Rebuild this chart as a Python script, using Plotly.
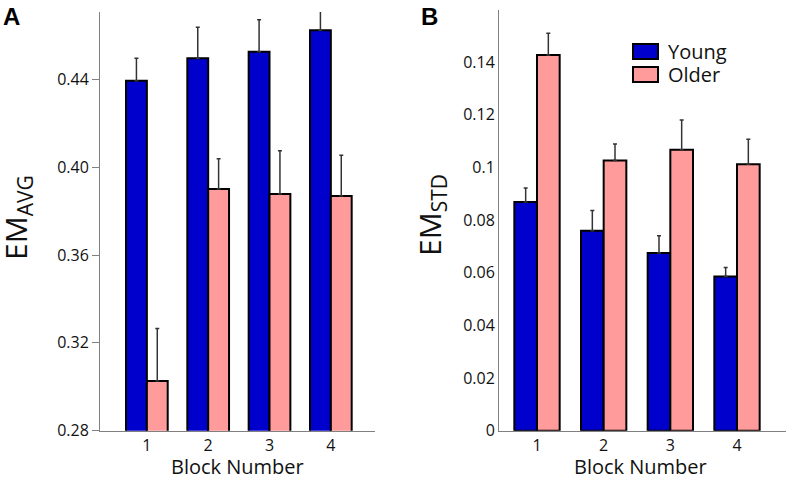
import plotly.graph_objects as go

blocks = [1, 2, 3, 4]
block_labels = ["1", "2", "3", "4"]

# Panel A: EM_AVG
young_avg = [0.4394, 0.4496, 0.4526, 0.4624]
young_avg_err = [0.0102, 0.0141, 0.0146, 0.0094]
older_avg = [0.3026, 0.3901, 0.3878, 0.3869]
older_avg_err = [0.0240, 0.0138, 0.0197, 0.0185]

# Panel B: EM_STD
young_std = [0.0869, 0.0760, 0.0675, 0.0586]
young_std_err = [0.0053, 0.0076, 0.0066, 0.0034]
older_std = [0.1427, 0.1026, 0.1067, 0.1012]
older_std_err = [0.0083, 0.0063, 0.0113, 0.0095]

avg_ticks = [0.28, 0.32, 0.36, 0.40, 0.44]
avg_ticktext = ["0.28", "0.32", "0.36", "0.40", "0.44"]
std_ticks = [0, 0.02, 0.04, 0.06, 0.08, 0.10, 0.12, 0.14, 0.16]
std_ticktext = ["0", "0.02", "0.04", "0.06", "0.08", "0.1", "0.12", "0.14", "0.16"]

YOUNG = "#0000CC"
OLDER = "#FF9B9B"
FONT = "Open Sans"
W, H = 787, 477


def px_x(p):
    return p / W


def px_y(p):
    return 1 - p / H


fig = go.Figure()


def add_bar(x, y, err, color, name, xa, ya):
    fig.add_trace(go.Bar(
        x=x, y=y, name=name, xaxis=xa, yaxis=ya,
        marker=dict(color=color, line=dict(color="black", width=2)),
        error_y=dict(type="data", array=err, arrayminus=[0] * len(err),
                     symmetric=False, color="#333333", thickness=1.5, width=2),
        offsetgroup=name, showlegend=False,
    ))


add_bar(blocks, young_avg, young_avg_err, YOUNG, "Young", "x", "y")
add_bar(blocks, older_avg, older_avg_err, OLDER, "Older", "x", "y")
add_bar(blocks, young_std, young_std_err, YOUNG, "Young", "x2", "y2")
add_bar(blocks, older_std, older_std_err, OLDER, "Older", "x2", "y2")

axis_common = dict(showgrid=False, zeroline=False, showline=True,
                   linecolor="#808080", linewidth=1, automargin=False,
                   tickfont=dict(family=FONT, size=16, color="#111"))

fig.update_layout(
    width=W, height=H,
    margin=dict(l=0, r=0, t=0, b=0, pad=0),
    plot_bgcolor="white", paper_bgcolor="white",
    barmode="group", bargap=0.32, bargroupgap=0,
    font=dict(family=FONT, color="#111"),
    xaxis=dict(domain=[px_x(100), px_x(375)], range=[0.236, 4.72],
               tickvals=blocks, ticktext=block_labels, ticks="",
               anchor="y", **axis_common),
    yaxis=dict(domain=[px_y(430.7), px_y(12)], range=[0.28, 0.4707],
               tickvals=avg_ticks, ticktext=avg_ticktext, ticks="outside",
               ticklen=7, tickcolor="#808080", anchor="x", **axis_common),
    xaxis2=dict(domain=[px_x(499), px_x(786)], range=[0.43, 4.735],
                tickvals=blocks, ticktext=block_labels, ticks="",
                anchor="y2", **axis_common),
    yaxis2=dict(domain=[px_y(430.7), px_y(9.5)], range=[0, 0.16],
                tickvals=std_ticks, ticktext=std_ticktext, ticks="",
                anchor="x2", **axis_common),
)

# Axis titles
fig.add_annotation(text="Block Number", xref="paper", yref="paper",
                   x=px_x(237.5), y=px_y(466), xanchor="center", yanchor="middle",
                   showarrow=False, font=dict(family=FONT, size=20, color="#111"))
fig.add_annotation(text="Block Number", xref="paper", yref="paper",
                   x=px_x(640), y=px_y(466), xanchor="center", yanchor="middle",
                   showarrow=False, font=dict(family=FONT, size=20, color="#111"))
fig.add_annotation(text="EM<sub>AVG</sub>", xref="paper", yref="paper",
                   x=px_x(17), y=px_y(218), textangle=-90, showarrow=False,
                   xanchor="center", yanchor="middle",
                   font=dict(family=FONT, size=30, color="#111"))
fig.add_annotation(text="EM<sub>STD</sub>", xref="paper", yref="paper",
                   x=px_x(431), y=px_y(215), textangle=-90, showarrow=False,
                   xanchor="center", yanchor="middle",
                   font=dict(family=FONT, size=30, color="#111"))

# Panel letters
fig.add_annotation(text="<b>A</b>", xref="paper", yref="paper",
                   x=px_x(1), y=px_y(1), xanchor="left", yanchor="top",
                   showarrow=False, font=dict(family="Liberation Sans", size=24, color="black"))
fig.add_annotation(text="<b>B</b>", xref="paper", yref="paper",
                   x=px_x(419), y=px_y(1), xanchor="left", yanchor="top",
                   showarrow=False, font=dict(family="Liberation Sans", size=24, color="black"))

# Legend
legend_items = [("Young", YOUNG, 44, 59), ("Older", OLDER, 67, 82)]
for name, color, y0, y1 in legend_items:
    fig.add_shape(type="rect", xref="paper", yref="paper",
                  x0=px_x(633), x1=px_x(658), y0=px_y(y1), y1=px_y(y0),
                  fillcolor=color, line=dict(color="black", width=2))
    fig.add_annotation(text=name, xref="paper", yref="paper",
                       x=px_x(666), y=px_y((y0 + y1) / 2), xanchor="left",
                       yanchor="middle", showarrow=False,
                       font=dict(family=FONT, size=20, color="#111"))

fig.write_html("out.html", config={"displayModeBar": False},
               post_script="document.body.style.margin='0';document.body.style.padding='0';")
